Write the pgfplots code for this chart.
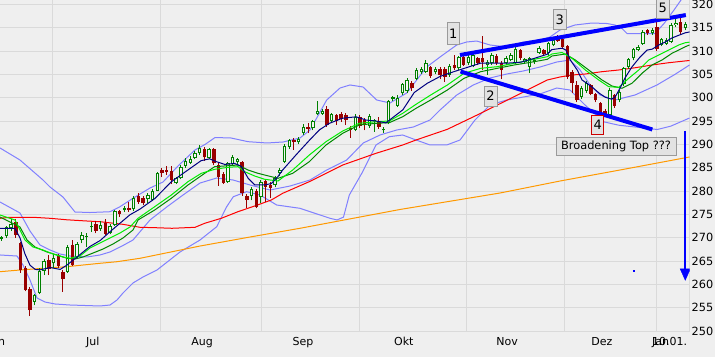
\documentclass[border=0pt]{standalone}
\usepackage{pgfplots}
\pgfplotsset{compat=1.18}
\usepackage{pgfplotstable}
\usepackage{fontspec}
\setmainfont{DejaVu Sans}
\definecolor{bg}{HTML}{EFEFEF}
\definecolor{gridc}{HTML}{DADADA}
\definecolor{upc}{HTML}{008000}
\definecolor{upfill}{HTML}{F4F4F4}
\definecolor{dnc}{HTML}{990000}
\definecolor{navyc}{HTML}{000080}
\definecolor{limec}{HTML}{00EE00}
\definecolor{dgreen}{HTML}{008800}
\definecolor{maRed}{HTML}{FF0000}
\definecolor{maOrange}{HTML}{FF9900}
\definecolor{band}{HTML}{8080FF}
\definecolor{trend}{HTML}{0000FF}
\definecolor{boxfill}{HTML}{E2E2E2}
\definecolor{boxdraw}{HTML}{9A9A9A}

\pgfplotstableread{
i o h l c
0 269.7 270.3 269.3 270.1
1 270.3 272.6 270.0 272.3
2 272.0 274.0 271.5 273.0
7 256.3 258.0 255.5 257.7
8 258.1 263.5 258.0 262.9
9 262.9 265.5 262.0 264.9
11 264.5 266.5 263.5 265.6
14 262.7 268.5 262.5 268.1
16 265.8 269.0 265.5 268.6
17 269.5 271.3 268.8 270.6
18 270.1 271.0 268.0 270.4
19 272.2 273.4 271.3 272.5
21 271.8 273.6 271.5 272.7
23 271.1 273.0 270.7 272.5
24 272.7 276.0 272.5 275.8
26 275.9 276.8 275.5 276.3
28 276.1 279.0 275.8 278.6
31 278.2 279.5 277.5 279.1
32 278.1 280.5 277.8 279.9
33 280.1 284.0 280.0 283.8
37 281.8 283.0 281.5 282.7
38 282.7 285.5 282.5 285.2
39 285.4 287.0 285.0 286.5
40 286.1 287.5 285.8 286.8
41 287.1 288.5 286.8 288.2
42 288.1 289.8 287.8 289.3
44 287.1 289.2 286.8 288.9
48 282.0 286.3 281.7 285.9
49 285.8 287.8 285.5 287.2
50 286.3 287.0 285.5 286.8
53 278.9 280.8 278.0 280.4
55 278.8 282.3 277.5 282.0
58 281.3 283.2 280.8 282.8
59 283.8 285.0 283.3 284.5
60 286.3 290.0 286.0 289.7
61 289.4 291.2 289.0 290.9
63 290.4 291.5 290.0 291.1
64 292.4 294.3 292.0 293.8
66 293.4 295.3 293.0 295.0
67 296.4 299.2 296.2 297.1
68 296.6 297.5 296.3 297.1
70 294.9 296.8 294.5 296.4
75 293.1 296.5 292.8 295.9
78 294.0 296.5 293.5 296.1
79 294.9 295.5 292.7 295.2
81 293.0 293.8 292.4 293.3
82 294.5 299.6 294.3 299.3
83 299.7 300.4 299.3 300.1
84 298.3 300.5 298.0 300.0
85 300.9 303.2 300.5 302.9
86 301.4 304.2 301.0 303.8
88 304.1 306.3 303.8 305.9
89 305.4 306.5 305.0 306.1
90 305.6 308.0 305.3 307.5
92 305.4 306.5 305.0 306.1
95 304.9 307.2 304.5 306.8
97 306.3 309.0 306.0 308.8
99 307.4 309.5 307.0 308.8
100 306.8 309.4 306.5 309.1
103 307.0 308.0 304.9 307.7
104 307.4 309.5 307.0 309.1
107 307.5 309.0 307.0 308.6
108 308.1 309.5 307.8 309.1
109 307.5 311.6 307.2 310.4
111 307.7 308.6 307.3 308.2
112 306.6 308.8 305.2 308.4
113 307.7 308.5 307.3 308.1
114 309.6 311.0 309.3 310.6
116 309.6 312.0 309.0 311.8
117 311.2 312.8 311.0 312.4
123 300.2 302.4 299.8 302.0
124 301.5 303.5 301.0 303.2
129 296.3 302.0 296.0 301.6
131 299.5 301.6 299.0 301.3
132 302.9 306.6 302.5 306.3
133 306.6 308.5 306.2 308.2
134 308.4 310.7 308.0 310.4
135 310.2 311.2 309.9 310.9
136 311.6 314.5 311.3 314.1
138 313.8 315.0 313.5 314.6
140 311.3 312.8 311.0 312.5
141 311.6 312.8 311.3 312.4
142 312.0 316.0 311.7 315.6
143 315.6 317.0 315.2 316.1
145 314.9 316.3 314.5 315.8
}\upT

\pgfplotstableread{
i o h l c
3 273.4 274.0 270.0 270.6
4 268.8 269.0 262.5 263.1
5 263.4 264.0 258.5 258.8
6 259.1 259.5 253.2 254.5
10 265.2 266.3 262.0 263.2
12 266.1 266.5 263.5 263.9
13 262.7 263.0 258.4 261.1
15 268.4 269.5 264.0 264.1
20 272.9 273.6 270.9 271.5
22 273.2 273.9 270.5 270.8
25 275.7 276.0 274.5 275.0
27 276.3 277.7 275.6 275.9
29 278.9 279.5 277.3 277.7
30 278.6 279.0 277.0 277.5
34 284.5 285.0 283.0 283.9
35 284.6 285.3 283.5 284.1
36 284.3 285.3 281.5 282.4
43 288.9 289.5 286.5 287.2
45 288.9 289.2 285.5 285.9
46 285.6 286.0 281.1 282.9
47 283.6 284.0 281.5 281.8
51 286.3 286.5 279.0 279.5
52 278.9 279.3 276.3 278.1
54 280.1 280.5 276.3 276.5
56 282.1 282.5 277.7 280.9
57 281.3 282.0 278.5 280.7
62 290.9 291.3 288.8 290.4
65 293.8 294.5 292.4 293.3
69 297.6 298.3 293.8 294.1
71 296.3 296.6 294.2 295.0
72 296.6 297.0 294.8 295.4
73 296.3 296.8 294.1 295.2
74 293.6 294.0 291.4 293.1
76 295.9 296.3 293.5 294.0
77 295.2 295.6 293.0 294.1
80 295.1 295.8 293.3 293.8
87 303.1 303.5 301.5 302.0
91 306.5 306.8 304.3 304.6
93 306.1 306.5 303.9 304.9
94 306.1 306.5 303.4 304.5
96 307.0 309.1 306.0 306.3
98 308.8 309.2 306.8 307.1
101 308.4 308.8 307.0 307.4
102 308.4 313.2 305.9 307.7
105 308.9 309.3 307.0 307.4
106 307.5 307.8 303.9 305.9
110 310.2 310.5 308.0 308.4
115 310.2 310.5 309.0 309.4
118 313.0 313.4 312.0 312.2
119 312.5 313.0 310.5 310.9
120 311.0 311.2 304.0 304.5
121 305.5 305.9 300.9 303.1
122 302.7 303.5 299.0 299.5
125 302.7 303.0 300.5 300.8
126 300.7 301.0 299.0 299.4
127 298.8 299.0 296.7 297.0
128 297.1 297.5 296.0 296.3
130 300.6 300.8 297.8 298.2
137 314.5 314.8 313.5 313.8
139 315.2 316.6 310.0 310.4
144 316.3 317.0 313.4 314.1
}\dnT

\pgfplotsset{
  candle/.style n args={1}{forget plot, draw=none, mark=none,
    error bars/.cd, y dir=plus, y explicit, error mark=none,
    error bar style={#1}},
}

\begin{document}
\begin{tikzpicture}
\useasboundingbox (0,0) rectangle (715pt,357pt);
\fill[bg] (0,0) rectangle (715pt,357pt);
\begin{axis}[
  at={(0pt,26pt)}, anchor=south west,
  scale only axis, width=689.5pt, height=331pt,
  xmin=-0.3606, xmax=145.9, ymin=250, ymax=320.93,
  axis background/.style={fill=bg},
  separate axis lines,
  axis x line*=bottom, axis y line*=right,
  axis line style={draw=gridc, line width=1pt},
  ytick={250,255,...,320},
  yticklabel pos=right,
  xtick={10.73,33.58,55.07,75.86,98.6,119.3,138.93},
  xticklabels={},
  extra x ticks={19.3,42.5,63.9,85.3,107.2,127.3,139.75,141.66},
  extra x tick labels={Jul,Aug,Sep,Okt,Nov,Dez,Jan,10.01.},
  extra x tick style={grid=none},
  xmajorgrids, ymajorgrids,
  major grid style={draw=gridc, line width=1pt},
  major tick length=0pt,
  tick style={draw=none},
  /pgf/number format/assume math mode=true,
  xticklabel style={font=\fontsize{11}{13}\selectfont, text=black, anchor=base, inner sep=0pt, yshift=-14pt},
  yticklabel style={font=\fontsize{11.3}{13}\selectfont, text=black, anchor=west, inner sep=0pt, xshift=2pt},
]
% Bollinger-type bands
\addplot[band, line width=1pt, forget plot] coordinates {
(-0.36,289.22) (3.88,286.64) (8.76,282.36) (10.25,280.86) (13.0,278.71) (15.55,275.50) (18.73,275.39) (22.97,275.56) (25.1,276.64) (27.85,278.44) (31.46,280.64) (34.22,281.93) (37.4,285.36) (41.0,288.79) (43.13,289.97) (45.25,291.46) (48.64,291.36) (52.25,290.57) (56.28,290.29) (59.67,290.5) (63.28,291.36) (65.4,293.07) (66.82,295.64) (68.94,299.5) (71.77,302.07) (73.88,302.72) (76.64,302.29) (79.55,299.5) (82.37,298.86) (85.91,301.0) (90.16,306.57) (92.98,308.72) (96.52,311.29) (98.64,311.93) (100.76,312.14) (103.58,311.29) (107.13,310.86) (110.65,311.93) (114.19,312.36) (116.31,313.0) (118.43,314.5) (121.61,315.57) (125.22,316.0) (128.4,315.89) (130.1,315.57) (131.58,314.82) (132.64,313.75) (138.58,313.75) (140.49,315.89) (142.62,318.79) (144.1,320.93) (145.9,323.07)};
\addplot[band, line width=1pt, forget plot] coordinates {
(-0.36,277.64) (3.88,275.29) (6.0,271.43) (8.12,268.43) (10.25,267.36) (12.37,266.5) (14.49,266.07) (18.1,265.86) (20.85,266.29) (22.97,266.93) (25.52,268.21) (27.85,269.5) (31.46,273.79) (35.0,276.57) (38.46,279.14) (42.07,281.71) (45.61,282.79) (49.07,282.36) (52.67,281.29) (56.91,280.21) (61.16,281.07) (65.4,282.36) (68.94,284.5) (73.18,286.64) (76.7,290.29) (80.25,292.0) (83.79,293.07) (87.31,293.71) (90.86,295.22) (92.98,297.36) (96.52,300.57) (100.04,302.72) (103.58,304.22) (107.13,305.07) (110.65,305.72) (114.19,306.57) (117.73,307.64) (120.56,308.07) (122.68,305.93) (124.8,302.72) (126.92,300.57) (130.1,299.5) (134.34,300.57) (139.0,302.72) (142.83,305.0) (145.9,307.0)};
\addplot[band, line width=1pt, forget plot] coordinates {
(-0.36,266.29) (3.25,266.07) (4.52,264.14) (6.0,260.93) (7.49,257.07) (9.19,256.21) (11.31,255.79) (14.49,255.57) (20.85,255.36) (22.97,255.57) (24.46,256.64) (25.73,258.14) (27.85,260.29) (29.97,261.57) (32.94,263.07) (37.82,266.93) (42.07,269.5) (45.61,272.35) (47.73,276.64) (49.13,278.78) (51.97,279.85) (54.79,279.14) (58.34,277.0) (63.28,276.29) (69.64,274.15) (71.13,273.8) (72.5,274.4) (73.74,279.14) (76.58,284.14) (79.4,289.86) (82.22,291.64) (85.07,292.0) (87.89,290.93) (90.86,289.86) (94.4,289.86) (97.22,290.93) (100.4,295.22) (103.58,298.43) (107.13,299.5) (110.65,300.14) (114.19,300.79) (117.73,302.07) (120.56,301.64) (123.74,298.43) (127.68,294.83) (130.89,294.1) (139.07,293.18) (141.91,293.89) (145.9,295.64)};
% orange and red moving averages
\addplot[maOrange, line width=1pt, forget plot] coordinates {
(-0.36,262.71) (3.88,263.07) (8.76,263.44) (13.85,263.78) (17.25,264.14) (20.85,264.51) (24.46,264.85) (29.34,265.58) (42.07,268.21) (52.67,270.14) (63.28,272.01) (84.49,276.04) (105.7,279.57) (118.43,282.14) (131.16,284.5) (145.9,287.29)};
\addplot[maRed, line width=1pt, forget plot] coordinates {
(-0.36,274.15) (1.76,274.37) (6.64,274.37) (10.25,274.15) (13.85,273.83) (18.1,273.57) (20.85,273.42) (25.73,272.86) (29.34,272.22) (32.52,272.14) (36.13,272.01) (41.01,272.22) (43.06,273.08) (46.58,274.15) (50.13,275.57) (53.67,276.79) (57.19,278.07) (59.61,279.51) (65.25,282.0) (72.34,285.57) (79.4,288.08) (85.07,289.86) (87.89,290.93) (94.53,293.22) (101.61,296.65) (108.68,300.21) (115.74,303.79) (118.43,304.43) (120.98,304.86) (123.8,305.07) (127.34,305.57) (130.89,305.93) (134.41,306.42) (137.95,307.0) (141.49,307.49) (145.9,307.97)};
% candles: wicks
\addplot[candle={draw=upc, line width=1pt}] table[x=i, y=l, y error plus expr=\thisrow{h}-\thisrow{l}] {\upT};
\addplot[candle={draw=dnc, line width=1pt}] table[x=i, y=l, y error plus expr=\thisrow{h}-\thisrow{l}] {\dnT};
% candles: bodies
\addplot[candle={draw=upc, line width=3.4pt}] table[x=i, y=o, y error plus expr=\thisrow{c}-\thisrow{o}] {\upT};
\addplot[candle={draw=upfill, line width=1.4pt}] table[x=i, y expr=\thisrow{o}+0.214, y error plus expr={max(\thisrow{c}-\thisrow{o}-0.428,0)}] {\upT};
\addplot[candle={draw=dnc, line width=3.4pt}] table[x=i, y=c, y error plus expr=\thisrow{o}-\thisrow{c}] {\dnT};
% short moving averages
\addplot[dgreen, line width=1pt, forget plot] coordinates {
(-0.36,274.43) (3.88,272.29) (5.37,269.5) (7.06,268.0) (9.61,266.93) (11.73,266.29) (13.85,265.58) (15.55,265.43) (17.25,265.86) (19.37,266.71) (21.49,267.57) (23.61,268.64) (25.73,269.93) (27.85,271.64) (28.91,273.79) (32.46,275.93) (35.98,278.44) (39.52,281.29) (43.06,283.79) (45.18,285.21) (48.0,285.42) (50.13,285.57) (52.25,284.5) (54.37,283.79) (57.19,283.07) (58.61,282.72) (61.73,283.79) (65.25,286.28) (68.8,289.86) (72.34,292.37) (75.86,294.14) (79.4,294.51) (82.22,294.64) (85.07,295.92) (87.89,297.72) (91.0,299.5) (94.53,301.64) (98.07,304.15) (101.61,305.57) (105.13,306.29) (108.68,307.0) (112.22,307.58) (115.74,308.22) (116.74,308.93) (119.56,309.36) (121.68,308.07) (124.52,305.93) (127.34,303.79) (129.46,302.5) (131.58,302.01) (133.7,303.08) (135.82,305.22) (137.95,307.0) (140.07,308.07) (142.19,309.51) (145.01,310.92) (145.9,311.29)};
\addplot[limec, line width=1pt, forget plot] coordinates {
(-0.36,274.86) (2.82,273.79) (4.94,269.5) (6.64,268.0) (8.76,267.36) (10.88,266.5) (13.0,265.86) (14.49,265.58) (16.61,266.07) (18.73,267.79) (20.85,268.86) (22.97,269.93) (25.1,271.0) (27.22,272.29) (28.91,274.15) (32.46,276.64) (35.98,279.14) (39.52,282.0) (42.34,283.79) (45.18,284.65) (48.0,285.08) (50.13,285.21) (51.55,284.14) (53.67,283.21) (55.79,282.51) (58.61,282.14) (61.73,284.5) (65.25,287.71) (68.8,290.57) (72.34,292.86) (75.86,294.51) (79.4,294.85) (82.22,295.0) (85.07,296.65) (87.89,298.58) (91.0,300.57) (94.53,302.71) (98.07,305.22) (101.61,306.29) (105.13,306.64) (108.68,307.37) (112.22,308.07) (115.74,308.78) (116.74,309.36) (118.86,309.68) (120.98,308.44) (123.8,305.93) (126.64,303.79) (128.77,302.35) (130.89,302.22) (133.01,304.15) (135.13,305.93) (137.25,308.07) (139.37,309.14) (141.49,310.22) (143.61,311.29) (145.01,311.78) (145.9,311.9)};
\addplot[navyc, line width=1pt, forget plot] coordinates {
(-0.4,272.0) (2.8,272.0) (3.9,269.9) (4.9,266.6) (6.0,264.1) (7.1,263.2) (8.1,263.1) (10.3,263.6) (12.4,263.2) (13.8,264.1) (15.9,265.8) (18.7,268.1) (20.9,269.4) (23.0,271.3) (25.1,273.1) (27.2,274.9) (29.3,276.1) (32.5,278.4) (36.0,282.0) (39.5,284.5) (42.3,286.5) (44.1,286.9) (45.5,286.3) (47.3,285.7) (49.4,285.9) (50.8,285.3) (52.3,282.7) (53.7,281.3) (55.8,281.3) (57.2,281.6) (58.6,283.1) (59.6,284.5) (62.4,287.7) (65.3,290.9) (67.4,293.1) (69.5,294.5) (72.3,295.6) (75.2,295.9) (77.3,295.2) (79.4,295.0) (81.5,294.6) (82.9,295.7) (85.1,297.4) (87.5,301.1) (90.3,303.1) (93.1,304.6) (96.0,305.6) (98.8,306.5) (101.6,307.4) (104.4,307.4) (107.3,307.4) (110.1,307.6) (112.9,308.4) (115.7,309.3) (116.7,310.3) (118.9,310.6) (119.7,310.2) (120.6,308.1) (122.1,305.9) (123.1,303.8) (125.2,302.3) (126.7,301.0) (128.0,300.1) (129.3,299.7) (130.1,300.1) (131.2,302.1) (132.2,304.2) (133.7,306.6) (135.4,308.7) (136.9,310.2) (138.0,310.4) (139.4,311.3) (140.7,311.9) (142.2,312.8) (143.7,313.4) (145.0,313.9) (146.0,314.1)};
% broadening formation trend lines
\addplot[trend, line width=4pt, forget plot] coordinates {(97.22,309.14) (145.12,317.70)};
\addplot[trend, line width=4pt, forget plot] coordinates {(97.33,305.61) (138.02,293.18)};
% target arrow
\addplot[trend, line width=1.7pt, forget plot] coordinates {(145.0,292.86) (145.0,263.0)};
\addplot[trend, fill=trend, line width=0.5pt, forget plot] coordinates {(143.94,263.3) (146.06,263.3) (145.0,260.9)} -- cycle;
\addplot[trend, only marks, mark=square*, mark size=0.5pt, forget plot] coordinates {(134.09,262.97)};
\end{axis}
% labels
\node[font=\fontsize{11}{13}\selectfont, anchor=base] at (-3.5pt,12pt) {Jun};
\draw[boxdraw, fill=boxfill, line width=1pt] (447pt,334pt) rectangle (459.5pt,312pt);
\node[font=\fontsize{13}{13}\selectfont] at (453.25pt,323pt) {1};
\draw[boxdraw, fill=boxfill, line width=1pt] (484pt,271pt) rectangle (497pt,251pt);
\node[font=\fontsize{13}{13}\selectfont] at (490.5pt,261pt) {2};
\draw[boxdraw, fill=boxfill, line width=1pt] (553.7pt,347pt) rectangle (566pt,327.7pt);
\node[font=\fontsize{13}{13}\selectfont] at (559.85pt,337.3pt) {3};
\draw[draw=red!80!black, fill=boxfill, line width=1pt] (591.9pt,242pt) rectangle (603.6pt,222.8pt);
\node[font=\fontsize{13}{13}\selectfont] at (597.75pt,232.4pt) {4};
\draw[boxdraw, fill=boxfill, line width=1pt] (656.5pt,359pt) rectangle (669pt,338.7pt);
\node[font=\fontsize{13}{13}\selectfont] at (662.75pt,348.8pt) {5};
\draw[boxdraw, fill=boxfill, line width=1pt] (556pt,220pt) rectangle (676pt,201.6pt);
\node[font=\fontsize{11.4}{13}\selectfont] at (616pt,210.8pt) {Broadening Top ???};
\end{tikzpicture}
\end{document}
